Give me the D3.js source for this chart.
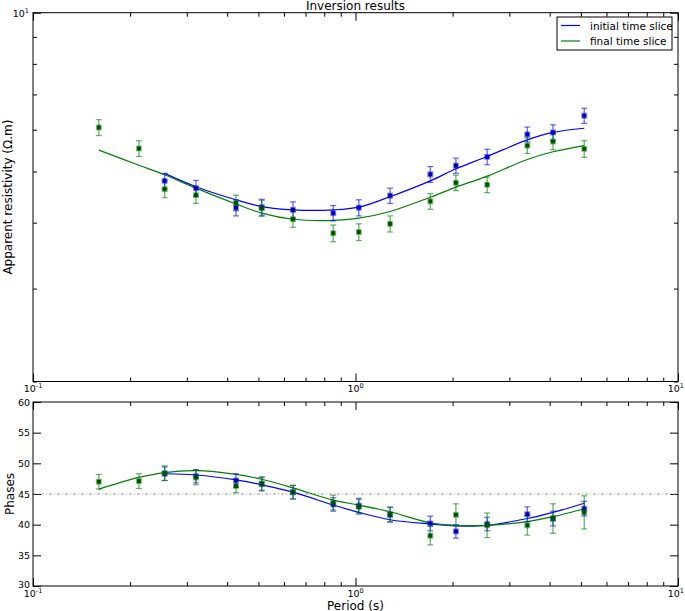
<!DOCTYPE html>
<html><head><meta charset="utf-8">
<script src="https://cdn.jsdelivr.net/npm/d3@7"></script>
<style>
body{margin:0;background:#fff;}
text{font-family:"DejaVu Sans",sans-serif;fill:#000;}
</style></head>
<body><svg id="c" width="685" height="611"></svg>
<script>
// ---- data ----
const periods = [0.16,0.213,0.256,0.32,0.426,0.512,0.64,0.853,1.024,1.28,1.706,2.048,2.56,3.41,4.096,5.12];
// apparent resistivity data (initial starts at 3rd period)
const rhoInitObs = [null,null,4.80,4.65,4.27,4.28,4.23,4.17,4.27,4.50,4.94,5.13,5.33,5.88,5.93,6.38];
const rhoInitErr = [null,null,0.16,0.16,0.15,0.15,0.15,0.14,0.15,0.15,0.17,0.17,0.18,0.19,0.20,0.21];
const rhoInitModel = [null,null,4.96,4.68,4.42,4.29,4.23,4.23,4.28,4.48,4.80,5.06,5.34,5.74,5.93,6.04];
const rhoFinalObs = [6.06,5.53,4.63,4.51,4.36,4.26,4.06,3.82,3.84,3.98,4.39,4.76,4.72,5.60,5.70,5.52];
const rhoFinalErr = [0.21,0.19,0.17,0.16,0.15,0.15,0.14,0.14,0.14,0.14,0.15,0.16,0.16,0.19,0.20,0.20];
const rhoFinalModel = [5.49,5.14,4.93,4.65,4.34,4.17,4.06,4.04,4.08,4.20,4.47,4.67,4.90,5.27,5.45,5.60];
// phases
const phInitObs = [null,null,48.3,47.9,47.2,46.6,45.3,43.3,43.1,41.6,40.2,38.9,40.1,41.7,41.0,42.6];
const phInitErr = [null,null,1.1,1.1,1.1,1.1,1.1,1.1,1.2,1.2,1.2,1.1,1.1,1.2,1.2,1.2];
const phInitModel = [null,null,48.3,48.1,47.3,46.5,45.3,43.2,42.0,40.8,40.1,39.8,39.9,41.0,42.0,43.5];
const phFinalObs = [47.0,47.1,48.4,47.7,46.3,46.7,45.3,43.6,42.9,41.7,38.2,41.6,39.9,39.9,41.0,42.0];
const phFinalErr = [1.2,1.2,1.2,1.2,1.1,1.1,1.1,1.2,1.2,1.2,1.5,1.8,2.0,1.6,2.4,2.7];
const phFinalModel = [45.8,47.7,48.5,48.8,48.2,47.4,46.0,44.0,43.2,42.1,40.3,39.9,39.9,40.5,41.3,42.6];
const legendLabels = ["initial time slice","final time slice"];
const xMajor = [0.1,1,10];
const xMinor = [0.2,0.3,0.4,0.5,0.6,0.7,0.8,0.9,2,3,4,5,6,7,8,9];
const rhoMinor = [2,3,4,5,6,7,8,9];
const phTicks = [30,35,40,45,50,55,60];

const BLUE="#0000ff", GREEN="#008000";
const svg = d3.select("#c");
const L=33, R=678;
const x = d3.scaleLog().domain([0.1,10]).range([L,R]);
const yRho = d3.scaleLog().domain([2,10]).range([381.5,12.7]);
const yPh = d3.scaleLinear().domain([30,60]).range([586,402]);

function frame(y0,y1){
  svg.append("rect").attr("x",L).attr("y",y0).attr("width",R-L).attr("height",y1-y0)
    .attr("fill","none").attr("stroke","#000").attr("stroke-width",1);
}
function xTicks(y0,y1){
  const gb = svg.append("g").attr("transform",`translate(0,${y1})`);
  gb.call(d3.axisBottom(x).tickValues(xMajor).tickSize(-8).tickFormat(""));
  gb.append("g").call(d3.axisBottom(x).tickValues(xMinor).tickSize(-4).tickFormat(""));
  const gt = svg.append("g").attr("transform",`translate(0,${y0})`);
  gt.call(d3.axisTop(x).tickValues(xMajor).tickSize(-8).tickFormat(""));
  gt.append("g").call(d3.axisTop(x).tickValues(xMinor).tickSize(-4).tickFormat(""));
  svg.selectAll(".domain").remove();
  xMajor.forEach((v,i)=>{
    const last = i===xMajor.length-1;
    const t = svg.append("text").attr("x",last?684:x(v)).attr("y",y1+10.5)
      .attr("text-anchor",last?"end":"middle").style("font-size","9.5px");
    t.append("tspan").text("10");
    t.append("tspan").attr("dy",-4).style("font-size","6.5px").text(Math.round(Math.log10(v)));
  });
}
function errbars(g, yS, obs, err, color){
  periods.forEach((p,i)=>{
    if(obs[i]==null) return;
    const cx=x(p), ya=yS(obs[i]-err[i]), yb=yS(obs[i]+err[i]);
    g.append("line").attr("x1",cx).attr("x2",cx).attr("y1",ya).attr("y2",yb).attr("stroke",color).attr("stroke-opacity",0.6).attr("stroke-width",1.3);
    [ya,yb].forEach(yy=>g.append("line").attr("x1",cx-3).attr("x2",cx+3).attr("y1",yy).attr("y2",yy).attr("stroke",color).attr("stroke-opacity",0.6).attr("stroke-width",1.2));
  });
}
function markers(g, yS, obs, fill, edge){
  periods.forEach((p,i)=>{
    if(obs[i]==null) return;
    g.append("rect").attr("x",x(p)-3).attr("y",yS(obs[i])-3).attr("width",6).attr("height",6)
      .attr("fill",edge).attr("fill-opacity",0.45);
    g.append("rect").attr("x",x(p)-2).attr("y",yS(obs[i])-2).attr("width",4).attr("height",4).attr("fill",fill);
  });
}
function model(g, yS, vals, color){
  const pts = periods.map((p,i)=>[p,vals[i]]).filter(d=>d[1]!=null);
  g.append("path").datum(pts)
    .attr("d",d3.line().x(d=>x(d[0])).y(d=>yS(d[1])).curve(d3.curveCatmullRom.alpha(0.5)))
    .attr("fill","none").attr("stroke",color).attr("stroke-width",1.2);
}

// ---- top panel ----
const top0=12.7, top1=381.5;
xTicks(top0,top1);
const gyl = svg.append("g").attr("transform",`translate(${L},0)`);
gyl.call(d3.axisLeft(yRho).tickValues([10]).tickSize(-8).tickFormat(""));
gyl.append("g").call(d3.axisLeft(yRho).tickValues(rhoMinor).tickSize(-4).tickFormat(""));
const gyr = svg.append("g").attr("transform",`translate(${R},0)`);
gyr.call(d3.axisRight(yRho).tickValues([10]).tickSize(-8).tickFormat(""));
gyr.append("g").call(d3.axisRight(yRho).tickValues(rhoMinor).tickSize(-4).tickFormat(""));
svg.selectAll(".domain").remove();
{
  const t = svg.append("text").attr("x",L-4).attr("y",yRho(10)+4).attr("text-anchor","end").style("font-size","9.5px");
  t.append("tspan").text("10");
  t.append("tspan").attr("dy",-4).style("font-size","6.5px").text("1");
}
const gTop = svg.append("g");
model(gTop,yRho,rhoInitModel,BLUE);
model(gTop,yRho,rhoFinalModel,GREEN);
errbars(gTop,yRho,rhoInitObs,rhoInitErr,BLUE);
errbars(gTop,yRho,rhoFinalObs,rhoFinalErr,GREEN);
markers(gTop,yRho,rhoInitObs,"#0000b0",BLUE);
markers(gTop,yRho,rhoFinalObs,"#005000",GREEN);
frame(top0,top1);
svg.append("text").attr("x",(L+R)/2).attr("y",10).attr("text-anchor","middle").style("font-size","12px").text("Inversion results");
svg.append("text").attr("transform",`translate(12,${(top0+top1)/2}) rotate(-90)`).attr("text-anchor","middle").style("font-size","12px")
  .text("Apparent resistivity (Ω.m)");

// legend
const lg = svg.append("g");
lg.append("rect").attr("x",557).attr("y",17).attr("width",115).attr("height",33).attr("fill","#fff").attr("stroke","#000").attr("stroke-width",1);
[BLUE,GREEN].forEach((c,i)=>{
  const yy = 25.5+i*15.5;
  lg.append("line").attr("x1",561).attr("x2",580).attr("y1",yy).attr("y2",yy).attr("stroke",c).attr("stroke-width",1.2);
  lg.append("text").attr("x",590).attr("y",yy+4).style("font-size","10.5px").text(legendLabels[i]);
});

// ---- bottom panel ----
const b0=402, b1=586;
xTicks(b0,b1);
const gpl = svg.append("g").attr("transform",`translate(${L},0)`);
gpl.call(d3.axisLeft(yPh).tickValues(phTicks).tickSize(-8).tickFormat(""));
const gpr = svg.append("g").attr("transform",`translate(${R},0)`);
gpr.call(d3.axisRight(yPh).tickValues(phTicks).tickSize(-8).tickFormat(""));
svg.selectAll(".domain").remove();
phTicks.forEach(v=>{
  svg.append("text").attr("x",L-3).attr("y",yPh(v)+(v===30?1.5:3.5)).attr("text-anchor","end").style("font-size","9.5px").text(v);
});
svg.append("line").attr("x1",L).attr("x2",R).attr("y1",yPh(45)).attr("y2",yPh(45))
  .attr("stroke","#999").attr("stroke-width",1).attr("stroke-dasharray","3,2,1,2");
const gB = svg.append("g");
model(gB,yPh,phInitModel,BLUE);
model(gB,yPh,phFinalModel,GREEN);
errbars(gB,yPh,phInitObs,phInitErr,BLUE);
errbars(gB,yPh,phFinalObs,phFinalErr,GREEN);
markers(gB,yPh,phInitObs,"#0000b0",BLUE);
markers(gB,yPh,phFinalObs,"#005000",GREEN);
frame(b0,b1);
svg.append("text").attr("transform",`translate(14,${(b0+b1)/2}) rotate(-90)`).attr("text-anchor","middle").style("font-size","12px").text("Phases");
svg.append("text").attr("x",(L+R)/2).attr("y",609.5).attr("text-anchor","middle").style("font-size","12px").text("Period (s)");
</script></body></html>
